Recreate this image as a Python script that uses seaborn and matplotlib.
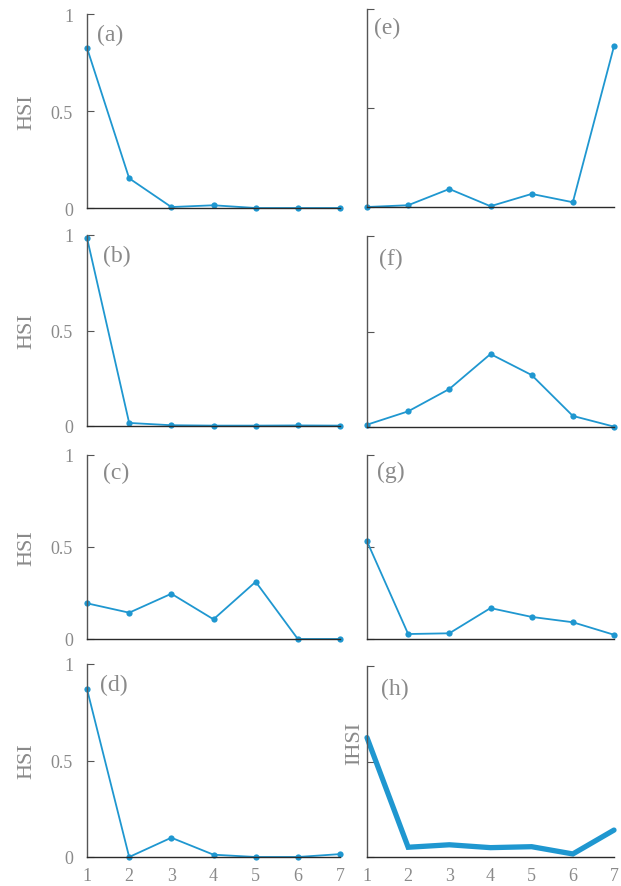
import matplotlib
matplotlib.use("Agg")
import matplotlib.pyplot as plt
import seaborn as sns
import pandas as pd

sns.set_style("white")
plt.rcParams['font.family'] = ['Liberation Serif', 'DejaVu Serif']

x_vals = [1, 2, 3, 4, 5, 6, 7]
panel_a = [0.825, 0.153, 0.005, 0.014, 0.0, 0.0, 0.0]
panel_b = [0.985, 0.016, 0.004, 0.002, 0.002, 0.003, 0.002]
panel_c = [0.194, 0.143, 0.246, 0.107, 0.311, 0.0, 0.0]
panel_d = [0.870, 0.0, 0.100, 0.012, 0.0, 0.0, 0.015]
panel_e = [0.0, 0.009, 0.091, 0.004, 0.066, 0.024, 0.812]
panel_f = [0.012, 0.082, 0.199, 0.382, 0.272, 0.058, 0.002]
panel_g = [0.531, 0.027, 0.031, 0.168, 0.120, 0.091, 0.023]
panel_h = [0.625, 0.051, 0.064, 0.049, 0.054, 0.016, 0.141]

labels = ['(a)', '(b)', '(c)', '(d)', '(e)', '(f)', '(g)', '(h)']
series = [panel_a, panel_b, panel_c, panel_d, panel_e, panel_f, panel_g, panel_h]
ylabels = ['HSI', 'HSI', 'HSI', 'HSI', '', '', '', 'IHSI']

BLUE = '#1f97d0'
TXT = '#8a8a8a'
SPINE_L = '#555555'
SPINE_B = '#2a2a2a'

fig = plt.figure(figsize=(6.21, 8.87), dpi=100)

rows_px = [(15, 209), (236, 427), (456, 640), (665, 858)]
rows_px_r = [(10, 208), (237, 428), (456, 640), (667, 858)]
H = 887.0
W = 621.0
cols = [(87, 340), (367, 614)]
label_pos = [(0.04, 0.95), (0.065, 0.95), (0.065, 0.96), (0.05, 0.95),
             (0.03, 0.96), (0.05, 0.94), (0.04, 0.97), (0.057, 0.94)]

for i in range(8):
    col = i // 4
    row = i % 4
    top, bot = (rows_px if col == 0 else rows_px_r)[row]
    l, r = cols[col]
    ax = fig.add_axes([l / W, 1 - bot / H, (r - l) / W, (bot - top) / H])
    df = pd.DataFrame({'x': x_vals, 'y': series[i]})
    if i == 7:
        sns.lineplot(data=df, x='x', y='y', ax=ax, color=BLUE, linewidth=3.8,
                     solid_joinstyle='miter', clip_on=False)
    else:
        sns.lineplot(data=df, x='x', y='y', ax=ax, color=BLUE, linewidth=1.3,
                     marker='o', markersize=4.5, markeredgewidth=0, clip_on=False)
    ax.set_xlim(1, 7)
    ax.set_ylim(0, 1)
    ax.set_yticks([0, 0.5, 1])
    if col == 0:
        ax.set_yticklabels(['0', '0.5', '1'])
    else:
        ax.set_yticklabels([])
    ax.set_xticks(x_vals)
    if row == 3:
        ax.set_xticklabels([str(v) for v in x_vals])
    else:
        ax.set_xticklabels([])
    ax.tick_params(axis='y', direction='in', length=5, width=0.8, color=SPINE_L,
                   labelsize=13, labelcolor=TXT, pad=10, left=True)
    ax.tick_params(axis='x', length=0, labelsize=13, labelcolor=TXT, pad=7)
    for s in ['top', 'right']:
        ax.spines[s].set_visible(False)
    ax.spines['left'].set_color(SPINE_L)
    ax.spines['left'].set_linewidth(1.0)
    ax.spines['bottom'].set_color(SPINE_B)
    ax.spines['bottom'].set_linewidth(1.0)
    ax.set_xlabel('')
    if ylabels[i]:
        ax.set_ylabel(ylabels[i], fontsize=16, color=TXT)
        if col == 0:
            ax.yaxis.set_label_coords(-0.20, 0.5)
        else:
            ax.yaxis.set_label_coords(-0.01, 0.60)
    else:
        ax.set_ylabel('')
    ax.text(label_pos[i][0], label_pos[i][1], labels[i], transform=ax.transAxes,
            fontsize=17, color=TXT, ha='left', va='top')

fig.savefig('out.png', dpi=100)
